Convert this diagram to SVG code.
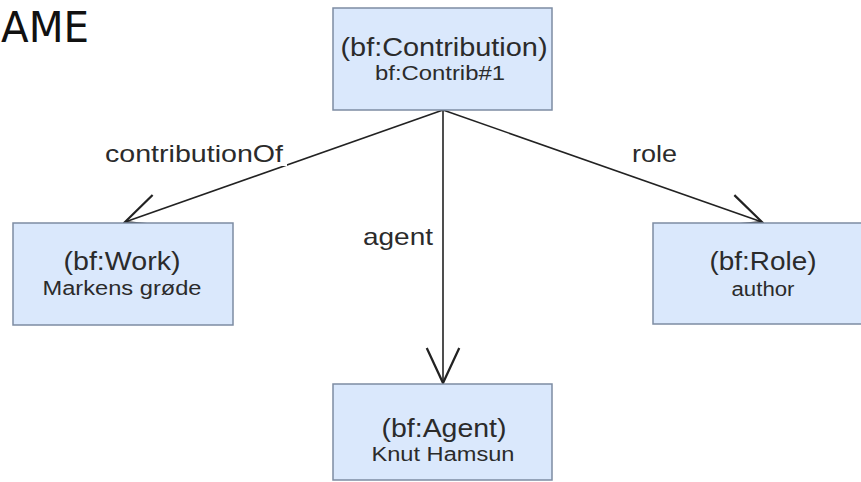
<svg xmlns="http://www.w3.org/2000/svg" width="861" height="482" viewBox="0 0 861 482">
  <style>
    .box { fill: #dae8fc; stroke: #7d8ca3; stroke-width: 1.5; }
    .t1 { font-family: "Liberation Sans", Arial, sans-serif; font-size: 25px; fill: #2b2b2b; text-anchor: middle; }
    .t2 { font-family: "Liberation Sans", Arial, sans-serif; font-size: 20px; fill: #2b2b2b; text-anchor: middle; }
    .lbl { font-family: "Liberation Sans", Arial, sans-serif; font-size: 24px; fill: #2b2b2b; }
    .edge { stroke: #222222; stroke-width: 1.6; fill: none; }
  </style>
  <defs>
    <marker id="open" markerUnits="userSpaceOnUse" markerWidth="40" markerHeight="40" viewBox="-30 -15 32 30" refX="0" refY="0" orient="auto">
      <path d="M-28,-13 L0,0 L-28,13" fill="none" stroke="#222222" stroke-width="1.8"/>
    </marker>
  </defs>
  <rect width="861" height="482" fill="#ffffff"/>
  <text x="1" y="42" font-family="DejaVu Sans, sans-serif" font-size="42" fill="#111111" textLength="88" lengthAdjust="spacingAndGlyphs">AME</text>

  <g id="connectors">
    <line class="edge" x1="443" y1="110" x2="125" y2="222" marker-end="url(#open)"/>
    <line class="edge" x1="443" y1="110" x2="443" y2="383" marker-end="url(#open)"/>
    <line class="edge" x1="443" y1="110" x2="762" y2="222" marker-end="url(#open)"/>
    <rect x="104" y="140" width="183" height="26" fill="#ffffff"/>
    <text class="lbl" x="105" y="162" textLength="178" lengthAdjust="spacingAndGlyphs">contributionOf</text>
    <text class="lbl" x="363" y="245" textLength="70" lengthAdjust="spacingAndGlyphs">agent</text>
    <text class="lbl" x="632" y="162" textLength="45" lengthAdjust="spacingAndGlyphs">role</text>
  </g>

  <g id="node-contribution">
    <rect class="box" x="333" y="8" width="219" height="102"/>
    <text class="t1" x="444" y="56" textLength="207" lengthAdjust="spacingAndGlyphs">(bf:Contribution)</text>
    <text class="t2" x="440" y="80" textLength="130" lengthAdjust="spacingAndGlyphs">bf:Contrib#1</text>
  </g>

  <g id="node-work">
    <rect class="box" x="13" y="223" width="220" height="102"/>
    <text class="t1" x="122" y="270" textLength="117" lengthAdjust="spacingAndGlyphs">(bf:Work)</text>
    <text class="t2" x="122" y="295" textLength="159" lengthAdjust="spacingAndGlyphs">Markens grøde</text>
  </g>

  <g id="node-agent">
    <rect class="box" x="333" y="384" width="219" height="96"/>
    <text class="t1" x="444" y="437" textLength="125" lengthAdjust="spacingAndGlyphs">(bf:Agent)</text>
    <text class="t2" x="443" y="461" textLength="143" lengthAdjust="spacingAndGlyphs">Knut Hamsun</text>
  </g>

  <g id="node-role">
    <rect class="box" x="653" y="223" width="220" height="101"/>
    <text class="t1" x="763" y="270" textLength="107" lengthAdjust="spacingAndGlyphs">(bf:Role)</text>
    <text class="t2" x="763" y="296" textLength="63" lengthAdjust="spacingAndGlyphs">author</text>
  </g>
</svg>
